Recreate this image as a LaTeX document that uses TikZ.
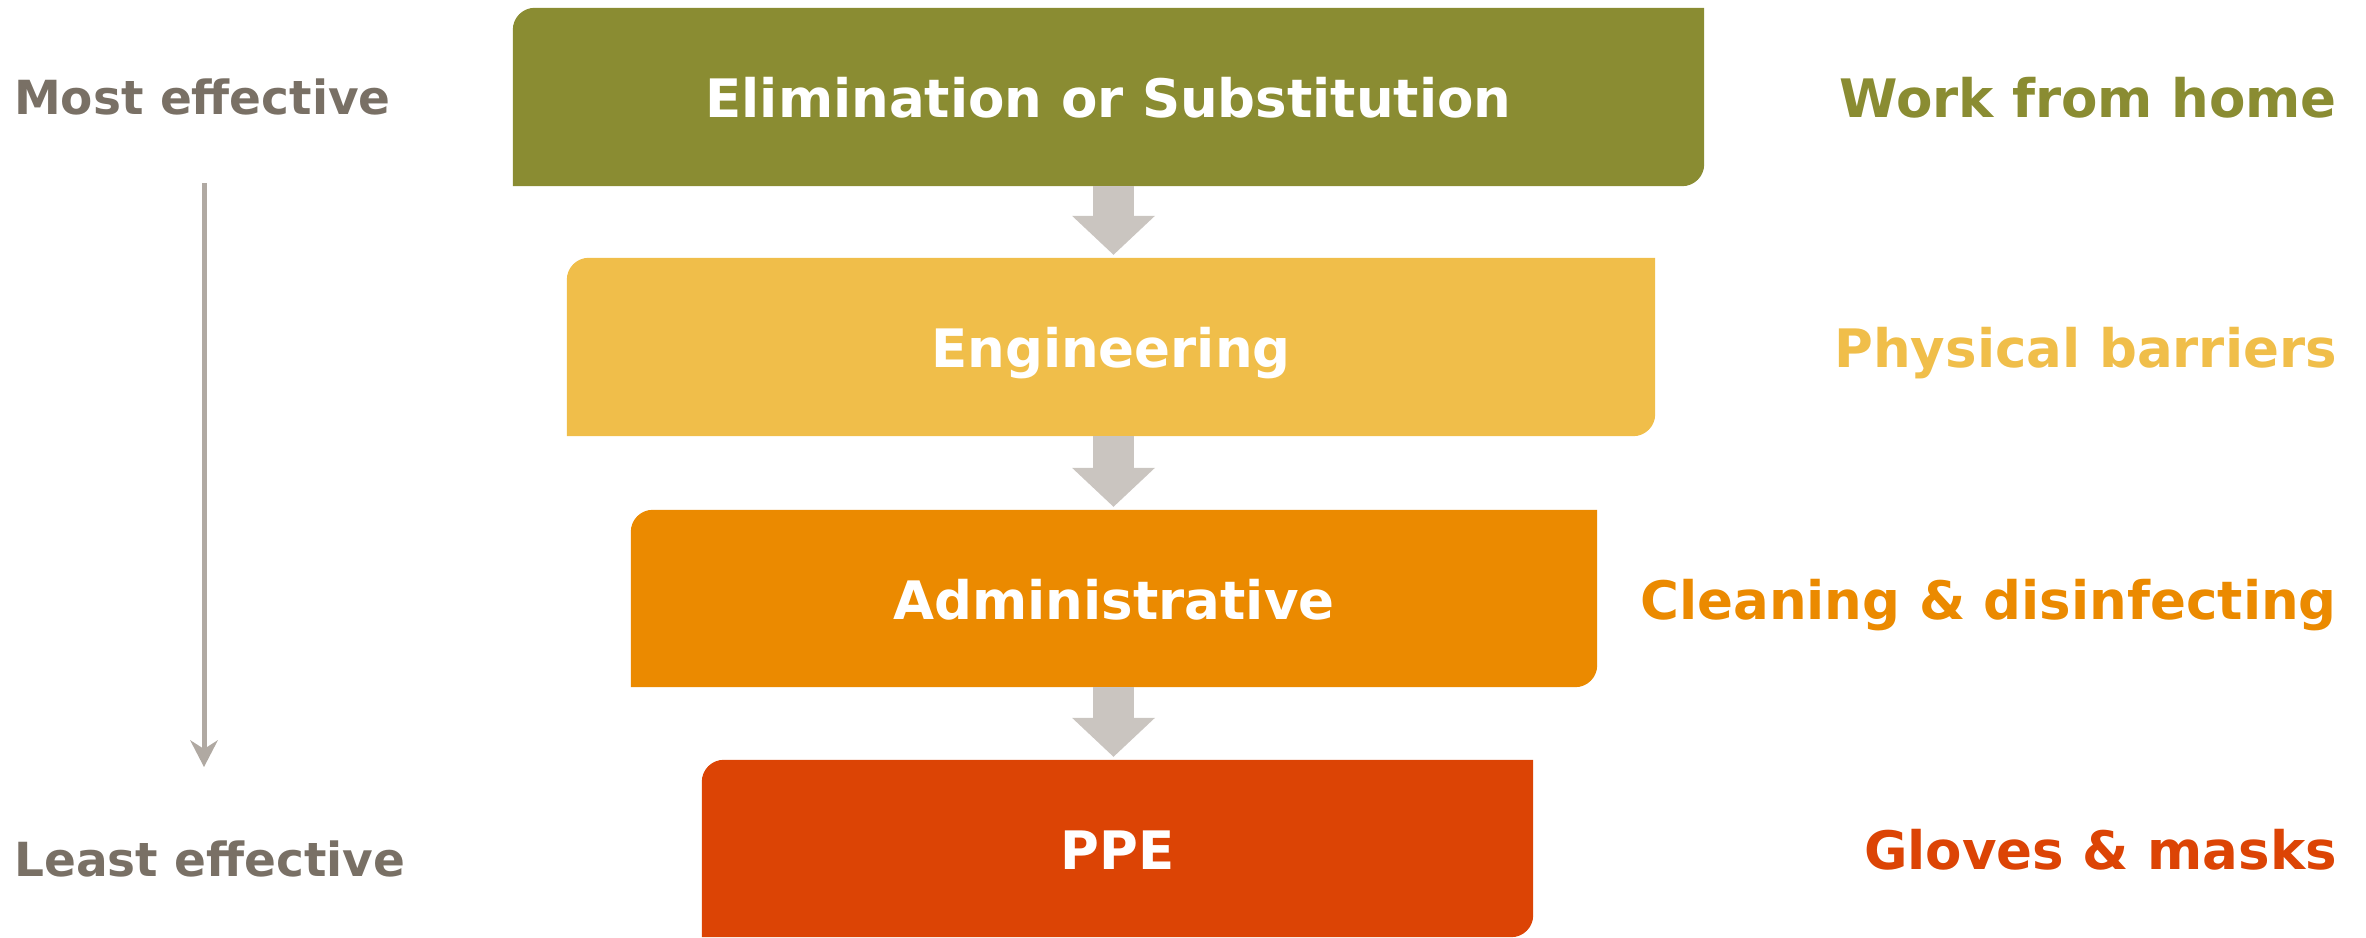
\documentclass[tikz,border=0pt]{standalone}
\usepackage{fontspec}
\setmainfont{DejaVu Sans}
\usetikzlibrary{arrows.meta,backgrounds}

\definecolor{elimcol}{HTML}{8A8C32}
\definecolor{engicol}{HTML}{F0BE4A}
\definecolor{admincol}{HTML}{EB8A00}
\definecolor{ppecol}{HTML}{DC4405}
\definecolor{sidegray}{HTML}{797065}
\definecolor{flowgray}{HTML}{CAC5C0}
\definecolor{scalegray}{HTML}{B0A9A2}

\tikzset{
    tier/.style={inner sep=0pt, text=white, font=\bfseries\fontsize{53}{64}\selectfont,
        text height=42pt, text depth=0pt},
    example/.style={inner sep=0pt, anchor=east, font=\bfseries\fontsize{53}{64}\selectfont,
        text height=42pt, text depth=0pt},
    side/.style={inner sep=0pt, anchor=west, text=sidegray, font=\bfseries\fontsize{47}{56}\selectfont,
        text height=36pt, text depth=0pt},
    flow/.style={flowgray, line width=41pt, shorten >=3pt,
        -{Triangle[width=83pt,length=39pt,line width=0pt]}},
    scalearrow/.style={scalegray, line width=5pt,
        -{Stealth[length=27pt,width=28pt,inset=9pt,line width=0pt,round]}}
}

\begin{document}
\begin{tikzpicture}[x=1pt, y=1pt]
    \useasboundingbox (0,0) rectangle (2366,937);

    \node[tier, minimum width=1191pt, minimum height=178pt] (elim) at (1108.5,840) {Elimination or Substitution};
    \node[tier, minimum width=1088pt, minimum height=178pt] (engi) at (1111,590) {Engineering};
    \node[tier, minimum width=966pt, minimum height=177pt] (admin) at (1114,338.5) {Administrative};
    \node[tier, minimum width=831pt, minimum height=177pt] (ppe) at (1117.5,88.5) {PPE};

    % boxes: only top left and bottom right corners are round
    \begin{scope}[on background layer]
        \foreach \n/\c in {elim/elimcol, engi/engicol, admin/admincol, ppe/ppecol}
            \fill[\c] (\n.south west) -- ([yshift=-22pt]\n.north west)
                arc[start angle=180, end angle=90, radius=22pt] -- (\n.north east)
                -- ([yshift=22pt]\n.south east)
                arc[start angle=0, end angle=-90, radius=22pt] -- cycle;
    \end{scope}

    \coordinate (mid) at (1113.5,0);
    \draw[flow] (elim.south -| mid) -- (engi.north -| mid);
    \draw[flow] (engi.south -| mid) -- (admin.north -| mid);
    \draw[flow] (admin.south -| mid) -- (ppe.north -| mid);

    \node[example, text=elimcol] (wfh) at (2337,840) {Work from home};
    \node[example, text=engicol] (barrier) at (2337,590) {Physical barriers};
    \node[example, text=admincol] (clean) at (2337,338.5) {Cleaning \& disinfecting};
    \node[example, text=ppecol] (gloves) at (2337,88.5) {Gloves \& masks};

    \node[side] (most) at (14,840) {Most effective};
    \node[side] (least) at (14,78) {Least effective};

    \coordinate (hi) at (204,754);
    \coordinate (lo) at (204,170);
    \draw[scalearrow] (hi) -- (lo);
\end{tikzpicture}
\end{document}
